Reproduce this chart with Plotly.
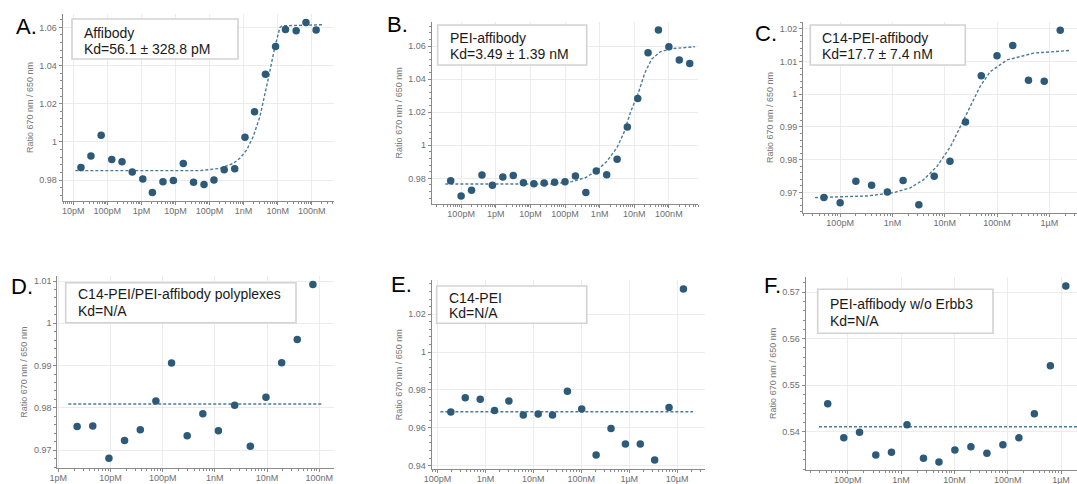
import plotly.graph_objects as go

W, H = 1077, 484

# ---------------- data (concentration in nM, ratio 670 nm / 650 nm) ----------------
A_conc = [1.68e-5, 3.3e-5, 6.6e-5, 1.35e-4, 2.7e-4, 5.4e-4, 1.1e-3, 2.1e-3, 4.3e-3, 8.7e-3,
          0.017, 0.034, 0.069, 0.135, 0.27, 0.55, 1.1, 2.1, 4.4, 8.7, 17, 35, 68, 135]
A_ratio = [0.9865, 0.9926, 1.0034, 0.9907, 0.9896, 0.9842, 0.9805, 0.9735, 0.9791, 0.9798,
           0.9887, 0.9788, 0.9776, 0.9800, 0.9854, 0.9859, 1.0024, 1.0158, 1.0354, 1.0500,
           1.0589, 1.0582, 1.0626, 1.0586]
A_fit_conc = [1.15e-5, 0.0525, 0.204, 0.50, 0.776, 1.23, 1.91, 3.02, 5.01, 7.08, 8.32, 11.7, 14.0, 214]
A_fit_ratio = [0.9849, 0.9849, 0.9861, 0.9887, 0.9914, 0.9957, 1.0027, 1.0132, 1.0310, 1.0440,
               1.0498, 1.0600, 1.0608, 1.0614]

B_conc = [5e-5, 1e-4, 2e-4, 4e-4, 8e-4, 1.6e-3, 3.2e-3, 6.3e-3, 0.0126, 0.025, 0.05, 0.1,
          0.2, 0.4, 0.8, 1.6, 3.2, 6.3, 12.6, 25, 50, 100, 200, 400]
B_ratio = [0.9786, 0.9693, 0.9728, 0.9820, 0.9758, 0.9808, 0.9818, 0.9774, 0.9768, 0.9772,
           0.9776, 0.9780, 0.9814, 0.9715, 0.9844, 0.9822, 0.9915, 1.0110, 1.0282, 1.0560,
           1.0697, 1.0596, 1.0515, 1.0495]
B_fit_conc = [3.5e-5, 0.0398, 0.158, 0.398, 0.794, 1.58, 3.16, 5.01, 7.94, 12.6, 20.0, 31.6, 56.2, 126, 562]
B_fit_ratio = [0.9766, 0.9766, 0.9780, 0.9805, 0.9845, 0.9900, 0.9985, 1.0075, 1.0205, 1.0305,
               1.0435, 1.0520, 1.0565, 1.0584, 1.0596]

C_conc = [0.049, 0.1, 0.2, 0.4, 0.8, 1.6, 3.2, 6.3, 12.6, 25, 50, 100, 200, 400, 800, 1620]
C_ratio = [0.9684, 0.9668, 0.9734, 0.9722, 0.9701, 0.9736, 0.9662, 0.9749, 0.9795, 0.9915,
           1.0057, 1.0118, 1.0149, 1.0043, 1.0040, 1.0196]
C_fit_conc = [0.0331, 0.324, 1.05, 2.19, 3.89, 7.08, 12.9, 20.0, 30.9, 47.9, 74.1, 155, 501, 2512]
C_fit_ratio = [0.9684, 0.9689, 0.9699, 0.9714, 0.9738, 0.9779, 0.9840, 0.9901, 0.9965, 1.0025,
               1.0069, 1.0105, 1.0126, 1.0134]

D_conc = [0.00229, 0.00457, 0.00933, 0.0186, 0.0372, 0.0741, 0.148, 0.295, 0.589, 1.17,
          2.40, 4.79, 9.55, 19.1, 38.0, 75.9]
D_ratio = [0.9756, 0.9757, 0.9681, 0.9723, 0.9748, 0.9816, 0.9906, 0.9734, 0.9786, 0.9746,
           0.9806, 0.9709, 0.9825, 0.9907, 0.9962, 1.0092]
D_fit_conc = [0.00155, 112]
D_fit_ratio = [0.9809, 0.9809]

E_conc = [0.19, 0.38, 0.78, 1.55, 3.09, 6.17, 12.6, 25.1, 51.3, 102, 204, 417, 832, 1700,
          3390, 6760, 13490]
E_ratio = [0.9684, 0.9759, 0.9751, 0.9691, 0.9742, 0.9668, 0.9673, 0.9668, 0.9793, 0.9700,
           0.9456, 0.9597, 0.9515, 0.9515, 0.9430, 0.9708, 1.0334]
E_fit_conc = [0.115, 21400]
E_fit_ratio = [0.9685, 0.9685]

F_conc = [0.042, 0.084, 0.166, 0.335, 0.66, 1.29, 2.63, 5.13, 10.2, 20.4, 40.7, 81.3, 162,
          316, 631, 1230]
F_ratio = [0.5460, 0.5387, 0.5399, 0.5350, 0.5356, 0.5415, 0.5343, 0.5335, 0.5361, 0.5368,
           0.5354, 0.5372, 0.5387, 0.5439, 0.5542, 0.5713]
F_fit_conc = [0.0288, 2500]
F_fit_ratio = [0.5411, 0.5411]

# tick values (nM) and labels as printed
A_ticks = [1e-5, 1e-4, 1e-3, 1e-2, 0.1, 1, 10, 100]
A_ticklabels = ["10pM", "100pM", "1pM", "10pM", "100pM", "1nM", "10nM", "100nM"]
B_ticks = [1e-4, 1e-3, 1e-2, 0.1, 1, 10, 100, 1000]
B_ticklabels = ["100pM", "1pM", "10pM", "100pM", "1nM", "10nM", "100nM", "1µM"]
C_ticks = [0.1, 1, 10, 100, 1000]
C_ticklabels = ["100pM", "1nM", "10nM", "100nM", "1µM"]
D_ticks = [1e-3, 1e-2, 0.1, 1, 10, 100]
D_ticklabels = ["1pM", "10pM", "100pM", "1nM", "10nM", "100nM"]
E_ticks = [0.1, 1, 10, 100, 1000, 10000]
E_ticklabels = ["100pM", "1nM", "10nM", "100nM", "1µM", "10µM"]
F_ticks = [0.1, 1, 10, 100, 1000]
F_ticklabels = ["100pM", "1nM", "10nM", "100nM", "1µM"]

A_text = ["Affibody", "Kd=56.1 ± 328.8 pM"]
B_text = ["PEI-affibody", "Kd=3.49 ± 1.39 nM"]
C_text = ["C14-PEI-affibody", "Kd=17.7 ± 7.4 nM"]
D_text = ["C14-PEI/PEI-affibody polyplexes", "Kd=N/A"]
E_text = ["C14-PEI", "Kd=N/A"]
F_text = ["PEI-affibody w/o Erbb3", "Kd=N/A"]

Y_TITLE = "Ratio 670 nm / 650 nm"

# ---------------- layout (pixel geometry) ----------------
panels = [
    dict(letter="A.", c=A_conc, r=A_ratio, fc=A_fit_conc, fr=A_fit_ratio, ticks=A_ticks, tl=A_ticklabels,
         text=A_text, box=(62.7, 14, 334, 201), xr=(-5.31, 2.655), yr=(0.969, 1.067), y0=0.98, dy=0.02,
         lpos=(14, 26), tpos=(82.3, 33.2, 48.8), frame=(72, 19, 238, 59)),
    dict(letter="B.", c=B_conc, r=B_ratio, fc=B_fit_conc, fr=B_fit_ratio, ticks=B_ticks, tl=B_ticklabels,
         text=B_text, box=(431.7, 21.7, 698.3, 204), xr=(-4.85, 2.85), yr=(0.9645, 1.0747), y0=0.98, dy=0.02,
         lpos=(385, 24), tpos=(447.7, 37.7, 54.3), frame=(437.7, 25, 586.7, 65)),
    dict(letter="C.", c=C_conc, r=C_ratio, fc=C_fit_conc, fr=C_fit_ratio, ticks=C_ticks, tl=C_ticklabels,
         text=C_text, box=(803, 21.7, 1077, 213.3), xr=(-1.71, 3.53), yr=(0.9636, 1.0222), y0=0.97, dy=0.01,
         lpos=(752.5, 34), tpos=(820.3, 37.7, 54.3), frame=(810.3, 25, 965.3, 65)),
    dict(letter="D.", c=D_conc, r=D_ratio, fc=D_fit_conc, fr=D_fit_ratio, ticks=D_ticks, tl=D_ticklabels,
         text=D_text, box=(57.3, 276, 334.3, 468.3), xr=(-3.02, 2.29), yr=(0.9657, 1.0112), y0=0.97, dy=0.01,
         lpos=(8.5, 286), tpos=(76, 294.3, 311), frame=(65.7, 282.7, 296, 322.7)),
    dict(letter="E.", c=E_conc, r=E_ratio, fc=E_fit_conc, fr=E_fit_ratio, ticks=E_ticks, tl=E_ticklabels,
         text=E_text, box=(431.7, 280, 705, 469.3), xr=(-1.12, 4.58), yr=(0.9381, 1.0381), y0=0.94, dy=0.02,
         lpos=(388.5, 284), tpos=(446.7, 297.7, 313.3), frame=(436.7, 286, 586.7, 323.3)),
    dict(letter="F.", c=F_conc, r=F_ratio, fc=F_fit_conc, fr=F_fit_ratio, ticks=F_ticks, tl=F_ticklabels,
         text=F_text, box=(805.7, 276.7, 1077, 470), xr=(-1.79, 3.30), yr=(0.5318, 0.5733), y0=0.54, dy=0.01,
         lpos=(762, 285), tpos=(828, 303.8, 320.5), frame=(817.7, 289.3, 993, 333.3)),
]

MARKER = "#2d5a78"
FITCOL = "#4c7b9a"
AXCOL = "#8a8a8a"
GRID = "#ececec"
FAM = "Liberation Sans, Arial, sans-serif"
TICKFONT = dict(family=FAM, size=9, color="#6e6e6e")
TEXTFONT = dict(family=FAM, size=14, color="#1a1a1a")


def px_x(x):
    return x / W


def px_y(y):
    return 1 - y / H


fig = go.Figure()
annotations = []
shapes = []

for i, p in enumerate(panels):
    n = "" if i == 0 else str(i + 1)
    xa, ya = "x" + n, "y" + n
    fig.add_trace(go.Scatter(x=p["fc"], y=p["fr"], mode="lines", xaxis=xa, yaxis=ya,
                             line=dict(color=FITCOL, width=1.4, dash="3px,2px"),
                             showlegend=False, hoverinfo="skip"))
    fig.add_trace(go.Scatter(x=p["c"], y=p["r"], mode="markers", xaxis=xa, yaxis=ya,
                             marker=dict(color=MARKER, size=7.5), showlegend=False))
    x0, y0, x1, y1 = p["box"]
    fig.layout["xaxis" + n] = dict(
        type="log", domain=[px_x(x0), px_x(x1)], range=list(p["xr"]), anchor=ya,
        automargin=False,
        tickmode="array", tickvals=p["ticks"], ticktext=p["tl"],
        ticks="outside", ticklen=3, tickcolor=AXCOL, tickfont=TICKFONT,
        ticklabelstandoff=-2,
        showline=True, linecolor=AXCOL, linewidth=1, mirror=False,
        showgrid=True, gridcolor=GRID, gridwidth=1, zeroline=False,
        minor=dict(ticks="outside", ticklen=2, tickcolor=AXCOL, dtick="D1", showgrid=False),
    )
    fig.layout["yaxis" + n] = dict(
        domain=[px_y(y1), px_y(y0)], range=list(p["yr"]), anchor=xa,
        automargin=False,
        tickmode="linear", tick0=p["y0"], dtick=p["dy"],
        ticks="outside", ticklen=3, tickcolor=AXCOL, tickfont=TICKFONT,
        showline=True, linecolor=AXCOL, linewidth=1,
        showgrid=True, gridcolor=GRID, gridwidth=1, zeroline=False,
        minor=dict(ticks="outside", ticklen=2, tickcolor=AXCOL, dtick=p["dy"] / 5, showgrid=False),
        title=dict(text=Y_TITLE, font=dict(family=FAM, size=9, color="#777777"), standoff=4),
    )
    # panel letter
    lx, ly = p["lpos"]
    annotations.append(dict(text=p["letter"], x=px_x(lx), y=px_y(ly), xref="paper", yref="paper",
                            xanchor="left", yanchor="middle", showarrow=False,
                            font=dict(family=FAM, size=22, color="#000000")))
    # text box
    fx0, fy0, fx1, fy1 = p["frame"]
    shapes.append(dict(type="rect", xref="paper", yref="paper",
                       x0=px_x(fx0), x1=px_x(fx1), y0=px_y(fy1), y1=px_y(fy0),
                       line=dict(color="#d2d2d2", width=1.6), fillcolor="white", layer="above"))
    tx, t1, t2 = p["tpos"]
    for txt, ty in zip(p["text"], (t1, t2)):
        annotations.append(dict(text=txt, x=px_x(tx), y=px_y(ty), xref="paper", yref="paper",
                                xanchor="left", yanchor="middle", showarrow=False, font=TEXTFONT))

fig.update_layout(
    width=W, height=H, margin=dict(l=0, r=0, t=0, b=0, autoexpand=False),
    paper_bgcolor="white", plot_bgcolor="white",
    annotations=annotations, shapes=shapes,
    font=dict(family=FAM),
)

fig.write_html("out.html", config={"displayModeBar": False},
               post_script="document.body.style.margin='0px';document.body.style.overflow='hidden';")
